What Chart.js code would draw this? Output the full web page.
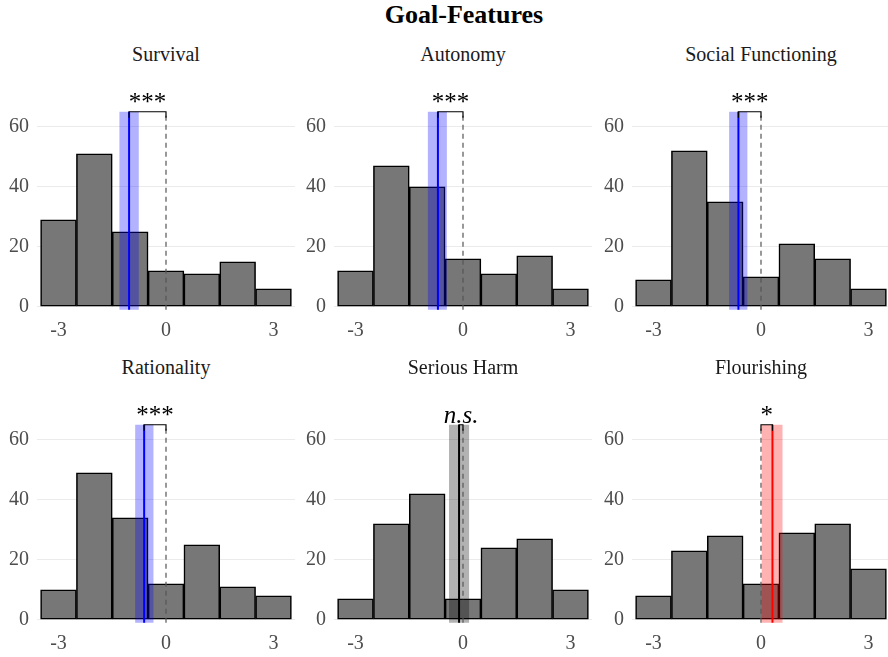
<!DOCTYPE html>
<html>
<head>
<meta charset="utf-8">
<title>Goal-Features</title>
<script src="https://cdn.jsdelivr.net/npm/chart.js@4.4.1/dist/chart.umd.min.js"></script>
<style>
  html, body { margin: 0; padding: 0; background: #fff; overflow: hidden; }
  body { width: 888px; height: 657px; position: relative; font-family: 'Liberation Serif', 'Times New Roman', serif; }
  .title { position: absolute; top: 2px; left: 0; width: 928px; text-align: center; font-size: 26px; font-weight: bold; line-height: 26px; color: #000; }
  .strip { position: absolute; width: 258px; text-align: center; font-size: 20px; line-height: 20px; color: #1a1a1a; }
  canvas { position: absolute; }
</style>
</head>
<body>
<div class="title">Goal-Features</div>
<script>
// bin centres (bins are 1 point wide)
var bins = [-3, -2, -1, 0, 1, 2, 3];
var panelNames = ['Survival', 'Autonomy', 'Social Functioning', 'Rationality', 'Serious Harm', 'Flourishing'];

var survivalCounts = [29, 51, 25, 12, 11, 15, 6];
var autonomyCounts = [12, 47, 40, 16, 11, 17, 6];
var socialCounts = [9, 52, 35, 10, 21, 16, 6];
var rationalityCounts = [10, 49, 34, 12, 25, 11, 8];
var harmCounts = [7, 32, 42, 7, 24, 27, 10];
var flourishingCounts = [8, 23, 28, 12, 29, 32, 17];

// mean and 95% CI per panel
var means = [-1.03, -0.70, -0.63, -0.61, -0.11, 0.32];
var ciLow = [-1.30, -0.98, -0.89, -0.86, -0.39, 0.02];
var ciHigh = [-0.76, -0.45, -0.38, -0.35, 0.17, 0.60];
var sigLabels = ['***', '***', '***', '***', 'n.s.', '*'];

var yTicks = [0, 20, 40, 60];
var xTicks = [-3, 0, 3];
var bracketY = 65;

var panelCounts = [survivalCounts, autonomyCounts, socialCounts, rationalityCounts, harmCounts, flourishingCounts];

// layout
var colLeft = [37, 334, 632];
var rowTop = [102, 415];
var plotW = 258, plotH = 214.5;
var axisW = 40, padTop = 60, padRight = 10, axisH = 34.5;

Chart.defaults.font.family = "'Liberation Serif', 'Times New Roman', serif";

function markStyle(i) {
    if (sigLabels[i] === 'n.s.') return { line: '#000000', band: 'rgba(0,0,0,0.3)' };
    if (means[i] < 0) return { line: '#0000ff', band: 'rgba(0,0,255,0.3)' };
    return { line: '#ff0000', band: 'rgba(255,0,0,0.3)' };
}

// mean line, CI band, zero reference and significance bracket
var goalMarks = {
    id: 'goalMarks',
    afterDatasetsDraw: function(chart, args, opts) {
        var xs = chart.scales.x, ys = chart.scales.y, ctx = chart.ctx;
        var yTop = ys.getPixelForValue(bracketY);
        var yBot = ys.getPixelForValue(-1);
        var yTip = ys.getPixelForValue(bracketY - 2);
        var xm = xs.getPixelForValue(opts.mean);
        var x0 = xs.getPixelForValue(0);
        var xl = xs.getPixelForValue(opts.lo), xh = xs.getPixelForValue(opts.hi);
        ctx.save();
        ctx.fillStyle = opts.band;
        ctx.fillRect(xl, yTop, xh - xl, yBot - yTop);

        ctx.strokeStyle = '#555555';
        ctx.lineWidth = 1.2;
        ctx.setLineDash([5, 4]);
        ctx.beginPath();
        ctx.moveTo(x0, yBot);
        ctx.lineTo(x0, yTop);
        ctx.stroke();
        ctx.setLineDash([]);

        ctx.strokeStyle = opts.line;
        ctx.lineWidth = 2;
        ctx.beginPath();
        ctx.moveTo(xm, yBot);
        ctx.lineTo(xm, yTop);
        ctx.stroke();

        ctx.strokeStyle = '#000000';
        ctx.lineWidth = 1.2;
        ctx.beginPath();
        ctx.moveTo(xm, yTip);
        ctx.lineTo(xm, yTop);
        ctx.lineTo(x0, yTop);
        ctx.lineTo(x0, yTip);
        ctx.stroke();

        ctx.fillStyle = '#000000';
        ctx.font = (opts.label === 'n.s.' ? 'italic ' : '') + "25px 'Liberation Serif', serif";
        ctx.textAlign = 'center';
        ctx.textBaseline = 'alphabetic';
        ctx.fillText(opts.label, (xm + x0) / 2, yTop - 2);
        ctx.restore();
    }
};

function drawPanel(i) {
    var col = i % 3, row = Math.floor(i / 3);
    var panelLeft = colLeft[col], panelTop = rowTop[row];

    var strip = document.createElement('div');
    strip.className = 'strip';
    strip.style.left = panelLeft + 'px';
    strip.style.top = (panelTop - 58) + 'px';
    strip.textContent = panelNames[i];
    document.body.appendChild(strip);

    var canvas = document.createElement('canvas');
    canvas.width = axisW + plotW + padRight;
    canvas.height = padTop + plotH + axisH;
    canvas.style.left = (panelLeft - axisW) + 'px';
    canvas.style.top = (panelTop - padTop) + 'px';
    document.body.appendChild(canvas);

    var counts = panelCounts[i];
    var style = markStyle(i);

    new Chart(canvas, {
        type: 'bar',
        data: {
            datasets: [{
                data: bins.map(function(b, j) { return { x: b, y: counts[j] }; }),
                backgroundColor: '#777777',
                borderColor: '#000000',
                borderWidth: 1.6,
                borderSkipped: false,
                barPercentage: 1,
                categoryPercentage: 1
            }]
        },
        options: {
            responsive: false,
            animation: false,
            devicePixelRatio: 1,
            layout: { padding: { top: padTop, right: padRight, left: 0, bottom: 0 } },
            plugins: {
                legend: { display: false },
                tooltip: { enabled: false },
                goalMarks: { mean: means[i], lo: ciLow[i], hi: ciHigh[i], label: sigLabels[i], line: style.line, band: style.band }
            },
            scales: {
                x: {
                    type: 'linear',
                    min: -3.6,
                    max: 3.6,
                    offset: false,
                    grid: { display: false },
                    border: { display: false },
                    afterBuildTicks: function(s) { s.ticks = xTicks.map(function(v) { return { value: v }; }); },
                    afterFit: function(s) { s.height = axisH; },
                    ticks: { color: '#4d4d4d', font: { size: 20 }, padding: -6, maxRotation: 0, autoSkip: false }
                },
                y: {
                    min: -3.25,
                    max: 68.25,
                    grid: { color: '#ebebeb', lineWidth: 1, drawTicks: false },
                    border: { display: false },
                    afterBuildTicks: function(s) { s.ticks = yTicks.map(function(v) { return { value: v }; }); },
                    afterFit: function(s) { s.width = axisW; },
                    ticks: { color: '#4d4d4d', font: { size: 20 }, padding: 8 }
                }
            }
        },
        plugins: [goalMarks]
    });
}

for (var i = 0; i < 6; i++) {
    drawPanel(i);
}
</script>
</body>
</html>
